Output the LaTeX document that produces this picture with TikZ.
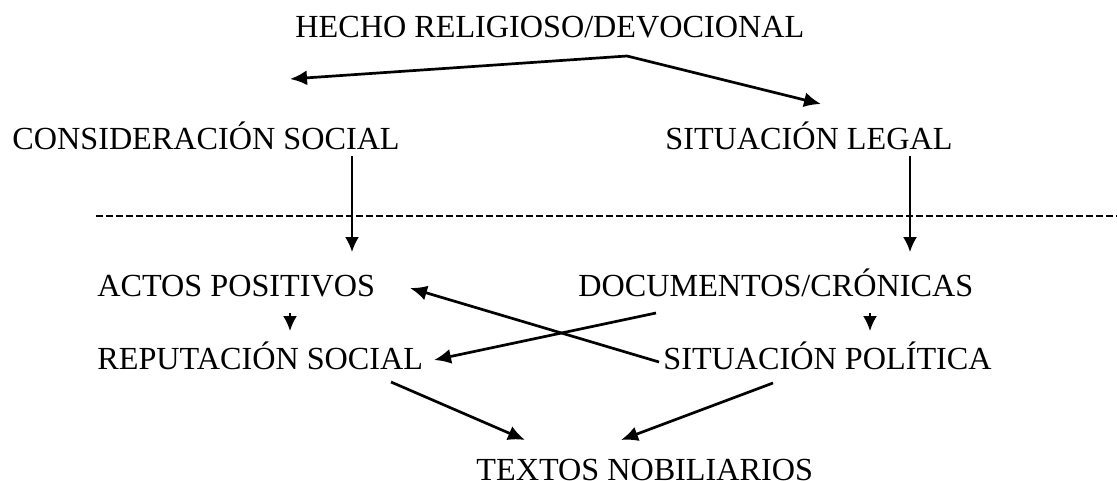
\documentclass[tikz,border=0pt]{standalone}
\usepackage{fontspec}
\setmainfont{Liberation Serif}
\usetikzlibrary{arrows.meta}
\tikzset{
  lbl/.style={inner sep=0pt, anchor=base west, font=\fontsize{16.1pt}{19pt}\selectfont},
  flecha/.style={-{Latex[length=8.5pt,width=7.5pt]}, line width=1.35pt},
  flechafina/.style={-{Latex[length=7.5pt,width=7pt]}, line width=1pt}
}
\begin{document}
\begin{tikzpicture}[x=0.5pt,y=-0.5pt]
\useasboundingbox (0,0) rectangle (1117,481);
% upper part
\node[lbl] (hecho) at (295,38) {HECHO RELIGIOSO/DEVOCIONAL};
\node[lbl] (consid) at (12,149) {CONSIDERACIÓN SOCIAL};
\node[lbl] (legal) at (665,149) {SITUACIÓN LEGAL};
\coordinate (vertice) at (627,56);
\coordinate (izq) at (290,79);
\coordinate (der) at (821,104);
\draw[flecha] (vertice) -- (izq);
\draw[flecha] (vertice) -- (der);
% dashed line
\coordinate (rayaA) at (96,216);
\coordinate (rayaB) at (1117,216);
\draw[line width=0.65pt, dash pattern=on 3.3pt off 1.7pt] (rayaA) -- (rayaB);
% lower part
\node[lbl] (actos) at (97,296) {ACTOS POSITIVOS};
\node[lbl] (docs) at (578,296) {DOCUMENTOS/CRÓNICAS};
\node[lbl] (reput) at (97,369) {REPUTACIÓN SOCIAL};
\node[lbl] (polit) at (663,369) {SITUACIÓN POLÍTICA};
\node[lbl] (textos) at (476,480) {TEXTOS NOBILIARIOS};
\coordinate (c1) at (352,156);
\coordinate (c2) at (352,252);
\coordinate (c3) at (910,156);
\coordinate (c4) at (910,252);
\draw[flechafina] (c1) -- (c2);
\draw[flechafina] (c3) -- (c4);
\coordinate (a1) at (290,313);
\coordinate (a2) at (290,331);
\coordinate (d1) at (870,313);
\coordinate (d2) at (870,331);
\draw[flechafina] (a1) -- (a2);
\draw[flechafina] (d1) -- (d2);
% crossing arrows
\coordinate (p1) at (659,362);
\coordinate (p2) at (410,288);
\coordinate (q1) at (656,313);
\coordinate (q2) at (434,360);
\draw[flecha] (p1) -- (p2);
\draw[flecha] (q1) -- (q2);
\coordinate (r1) at (391,382);
\coordinate (r2) at (525,440);
\coordinate (s1) at (773,383);
\coordinate (s2) at (621,440);
\draw[flecha] (r1) -- (r2);
\draw[flecha] (s1) -- (s2);
\end{tikzpicture}
\end{document}
